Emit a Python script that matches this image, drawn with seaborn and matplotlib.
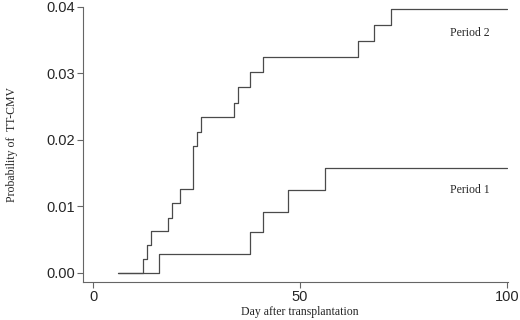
import pandas as pd
import seaborn as sns
import matplotlib.pyplot as plt

# step points (day, cumulative probability)
days_p1 = [6, 16, 38, 41, 47, 56, 100]
prob_p1 = [0.0, 0.0028, 0.0061, 0.0092, 0.0125, 0.0158, 0.0158]

days_p2 = [6, 12, 13, 14, 18, 19, 21, 24, 25, 26, 34, 35, 38, 41, 64, 68, 72, 100]
prob_p2 = [0.0, 0.0021, 0.0041, 0.0063, 0.0083, 0.0105, 0.0126, 0.0190, 0.0212,
           0.0234, 0.0256, 0.0279, 0.0302, 0.0325, 0.0349, 0.0373, 0.0397, 0.0397]

x_ticks = [0, 50, 100]
y_ticks = [0.00, 0.01, 0.02, 0.03, 0.04]

df = pd.concat([
    pd.DataFrame({'day': days_p1, 'prob': prob_p1, 'period': 'Period 1'}),
    pd.DataFrame({'day': days_p2, 'prob': prob_p2, 'period': 'Period 2'}),
])

sns.set_style('ticks')
fig = plt.figure(figsize=(5.2, 3.2), dpi=100)
W, H = 520, 320
ax = fig.add_axes([83 / W, 1 - 282 / H, (508 - 83) / W, (282 - 7) / H])

line_color = '#4a4a4a'
sns.lineplot(data=df, x='day', y='prob', units='period', estimator=None, sort=False,
             drawstyle='steps-post', color=line_color, linewidth=0.9, ax=ax, legend=False)

ax.set_xlim(-2.5, 100.3)
ax.set_ylim(-0.0014, 0.0400)
ax.set_xticks(x_ticks)
ax.set_yticks(y_ticks)
ax.set_xticklabels([str(t) for t in x_ticks], fontsize=10.5, family='Liberation Sans')
ax.set_yticklabels([f'{t:.2f}' for t in y_ticks], fontsize=10.5, family='Liberation Sans')
ax.tick_params(direction='out', length=4, width=0.8, color='#666666', pad=2)
for side in ['top', 'right']:
    ax.spines[side].set_visible(False)
for side in ['left', 'bottom']:
    ax.spines[side].set_color('#666666')
    ax.spines[side].set_linewidth(0.8)

ax.set_xlabel('')
ax.set_ylabel('')
fig.text(300 / W, 1 - 312 / H, 'Day after transplantation', fontsize=8.5,
         family='Liberation Serif', ha='center', va='center')
fig.text(12 / W, 1 - 145 / H, 'Probability of  TT-CMV', fontsize=8.5,
         family='Liberation Serif', ha='center', va='center', rotation=90)

ax.text(91, 0.0361, 'Period 2', fontsize=8.5, family='Liberation Serif', ha='center', va='center')
ax.text(91, 0.0125, 'Period 1', fontsize=8.5, family='Liberation Serif', ha='center', va='center')

fig.savefig('out.png', dpi=100)
